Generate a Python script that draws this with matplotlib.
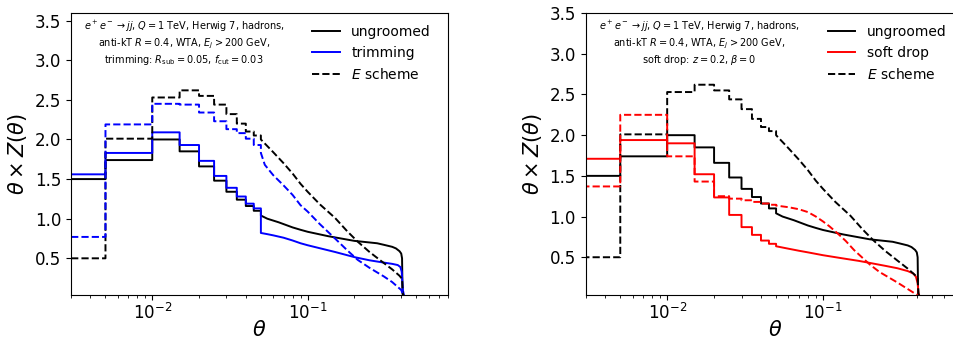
import numpy as np
import matplotlib
matplotlib.use("Agg")
import matplotlib.pyplot as plt

# ---------------- data ----------------
# histogram bin edges (theta) for the coarse, visibly stepped region
theta_edges = [0.0, 0.005, 0.01, 0.015, 0.02, 0.025, 0.03, 0.035, 0.04, 0.045, 0.05]

# ungroomed, WTA axis (solid black) -- shared by both panels
ungroomed_bins = [1.50, 1.74, 2.00, 1.85, 1.66, 1.48, 1.34, 1.24, 1.16, 1.10]
ungroomed_tail_theta = [0.05, 0.055, 0.065, 0.08, 0.09, 0.1, 0.135, 0.2, 0.28, 0.31, 0.35, 0.37, 0.39, 0.40, 0.405, 0.408, 0.42]
ungroomed_tail_vals = [1.04, 1.00, 0.955, 0.89, 0.86, 0.835, 0.78, 0.72, 0.69, 0.67, 0.645, 0.625, 0.59, 0.56, 0.50, 0.05, 0.0]

# ungroomed, E scheme (dashed black) -- shared by both panels
ungroomedE_bins = [0.50, 2.01, 2.53, 2.62, 2.55, 2.44, 2.32, 2.20, 2.10, 2.05]
ungroomedE_tail_theta = [0.05, 0.06, 0.07, 0.08, 0.09, 0.1, 0.12, 0.15, 0.18, 0.21, 0.25, 0.3, 0.35, 0.39, 0.405, 0.41, 0.42]
ungroomedE_tail_vals = [2.00, 1.84, 1.70, 1.57, 1.44, 1.34, 1.18, 1.01, 0.84, 0.71, 0.58, 0.46, 0.36, 0.28, 0.24, 0.05, 0.0]

# trimming, WTA (solid blue)
trim_bins = [1.56, 1.83, 2.09, 1.93, 1.73, 1.54, 1.39, 1.28, 1.19, 1.13]
trim_tail_theta = [0.05, 0.055, 0.06, 0.07, 0.08, 0.09, 0.1, 0.13, 0.15, 0.2, 0.25, 0.3, 0.35, 0.38, 0.395, 0.403, 0.41, 0.42]
trim_tail_vals = [0.82, 0.805, 0.79, 0.76, 0.725, 0.69, 0.665, 0.61, 0.58, 0.515, 0.475, 0.45, 0.43, 0.415, 0.39, 0.33, 0.10, 0.0]

# trimming, E scheme (dashed blue)
trimE_bins = [0.77, 2.19, 2.45, 2.44, 2.34, 2.23, 2.13, 2.08, 2.01, 1.93]
trimE_tail_theta = [0.05, 0.053, 0.06, 0.07, 0.08, 0.09, 0.1, 0.12, 0.15, 0.18, 0.21, 0.25, 0.31, 0.35, 0.4, 0.42]
trimE_tail_vals = [1.83, 1.68, 1.55, 1.42, 1.30, 1.17, 1.09, 0.93, 0.75, 0.60, 0.48, 0.38, 0.27, 0.20, 0.10, 0.0]

# soft drop, WTA (solid red)
sd_bins = [1.71, 1.94, 1.90, 1.52, 1.235, 1.02, 0.87, 0.775, 0.705, 0.665]
sd_tail_theta = [0.05, 0.06, 0.07, 0.08, 0.1, 0.13, 0.17, 0.2, 0.25, 0.3, 0.35, 0.38, 0.395, 0.405, 0.41, 0.42]
sd_tail_vals = [0.635, 0.605, 0.58, 0.56, 0.525, 0.49, 0.455, 0.43, 0.395, 0.365, 0.33, 0.30, 0.26, 0.18, 0.06, 0.0]

# soft drop, E scheme (dashed red)
sdE_bins = [1.37, 2.25, 1.74, 1.43, 1.25, 1.22, 1.20, 1.18, 1.16, 1.145]
sdE_tail_theta = [0.05, 0.06, 0.07, 0.08, 0.09, 0.1, 0.11, 0.123, 0.14, 0.158, 0.18, 0.2, 0.23, 0.26, 0.3, 0.33, 0.37, 0.4, 0.42]
sdE_tail_vals = [1.135, 1.115, 1.09, 1.055, 1.0, 0.94, 0.88, 0.80, 0.70, 0.59, 0.49, 0.41, 0.32, 0.26, 0.19, 0.14, 0.08, 0.04, 0.0]

yticks = [0.5, 1.0, 1.5, 2.0, 2.5, 3.0, 3.5]

info_common = [r"$e^+e^-\to jj$, $Q=1$ TeV, Herwig 7, hadrons,",
               r"anti-kT $R=0.4$, WTA, $E_j>200$ GeV,"]
info_trim = r"trimming: $R_{\rm sub}=0.05$, $f_{\rm cut}=0.03$"
info_sd = r"soft drop: $z=0.2$, $\beta=0$"


def path(edges, vals, tail_t, tail_v):
    e = np.array(edges, dtype=float)
    e[e <= 0] = 1e-4
    xs = np.repeat(e, 2)[1:-1]
    ys = np.repeat(np.array(vals, dtype=float), 2)
    xs = np.concatenate([xs, tail_t])
    ys = np.concatenate([ys, tail_v])
    return xs, ys


fig = plt.figure(figsize=(9.54, 3.4), dpi=100)
W, H = 954.0, 340.0
ax1 = fig.add_axes([71 / W, 45 / H, 377 / W, 282.3 / H])
ax2 = fig.add_axes([585.7 / W, 45 / H, 378 / W, 282.3 / H])

lw = 1.4
def draw(ax, groomed_bins, gt, gv, groomedE_bins, gEt, gEv, color, label, ylim, info3):
    x, y = path(theta_edges, ungroomed_bins, ungroomed_tail_theta, ungroomed_tail_vals)
    l1, = ax.plot(x, y, color='k', lw=lw, label='ungroomed')
    x, y = path(theta_edges, groomed_bins, gt, gv)
    l2, = ax.plot(x, y, color=color, lw=lw, label=label)
    x, y = path(theta_edges, ungroomedE_bins, ungroomedE_tail_theta, ungroomedE_tail_vals)
    l3, = ax.plot(x, y, color='k', lw=lw, ls='--', label=r'$E$ scheme')
    x, y = path(theta_edges, groomedE_bins, gEt, gEv)
    ax.plot(x, y, color=color, lw=lw, ls='--')
    ax.set_xscale('log')
    ax.set_xlim(0.003, 0.8)
    ax.set_ylim(*ylim)
    ax.set_yticks(yticks)
    ax.tick_params(labelsize=12)
    ax.tick_params(axis='x', which='major', pad=2)
    ax.set_xlabel(r'$\theta$', fontsize=15, labelpad=-2)
    ax.set_ylabel(r'$\theta\times Z(\theta)$', fontsize=15)
    ax.legend(handles=[l1, l2, l3], loc='upper left', bbox_to_anchor=(0.607, 1.0),
              frameon=False, fontsize=10, labelspacing=0.5, handlelength=2.0)
    lines = info_common + [info3]
    for i, t in enumerate(lines):
        ax.text(0.30, 0.950 - i * 0.059, t, transform=ax.transAxes,
                ha='center', va='center', fontsize=7.0)

draw(ax1, trim_bins, trim_tail_theta, trim_tail_vals, trimE_bins, trimE_tail_theta, trimE_tail_vals,
     'b', 'trimming', (0.037, 3.6), info_trim)
draw(ax2, sd_bins, sd_tail_theta, sd_tail_vals, sdE_bins, sdE_tail_theta, sdE_tail_vals,
     'r', 'soft drop', (0.036, 3.505), info_sd)

fig.savefig('out.png', dpi=100)
